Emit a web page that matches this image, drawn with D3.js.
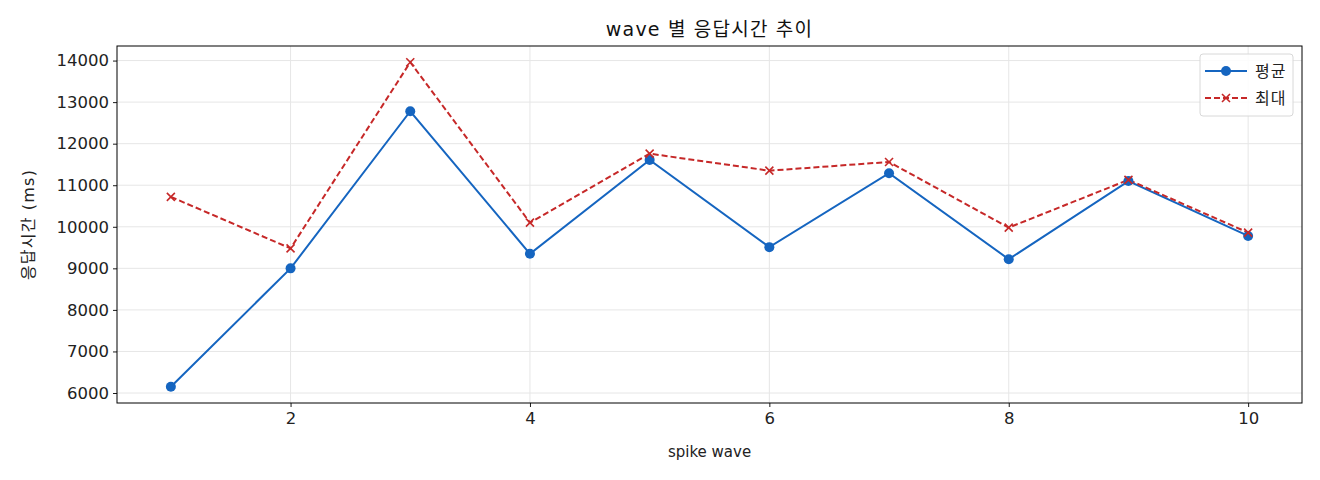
<!DOCTYPE html>
<html><head><meta charset="utf-8">
<script src="https://cdn.jsdelivr.net/npm/d3@7"></script>
<style>
body{margin:0;background:#fff;}
svg{display:block;font-family:"DejaVu Sans","Noto Sans CJK KR",sans-serif;}
</style></head>
<body>
<svg id="chart" width="1320" height="480"></svg>
<script>
const waves = [1,2,3,4,5,6,7,8,9,10];
const avgValues = [6150,9000,12780,9350,11610,9510,11290,9220,11100,9780];
const maxValues = [10720,9480,13960,10100,11760,11350,11560,9980,11130,9860];
const xTicks = [2,4,6,8,10];
const yTicks = [6000,7000,8000,9000,10000,11000,12000,13000,14000];
const seriesNames = ["평균","최대"];
const titleText = "wave 별 응답시간 추이";
const xLabel = "spike wave";
const yLabel = "응답시간 (ms)";

const svg = d3.select("#chart");
const L=117, R=1302, T=46, B=403;
const blue="#1565C0", red="#C62828";

const allVals = avgValues.concat(maxValues);
const ymin=d3.min(allVals), ymax=d3.max(allVals), yr=ymax-ymin;
const x = d3.scaleLinear().domain([1-0.45,10+0.45]).range([L,R]);
const y = d3.scaleLinear().domain([ymin-0.05*yr, ymax+0.05*yr]).range([B,T]);

// grid
const g = svg.append("g");
g.selectAll(".gx").data(xTicks).enter().append("line")
 .attr("x1",d=>x(d)).attr("x2",d=>x(d)).attr("y1",T).attr("y2",B)
 .attr("stroke","#e6e6e6").attr("stroke-width",1);
g.selectAll(".gy").data(yTicks).enter().append("line")
 .attr("x1",L).attr("x2",R).attr("y1",d=>y(d)).attr("y2",d=>y(d))
 .attr("stroke","#e6e6e6").attr("stroke-width",1);

// axes
const xAxis = d3.axisBottom(x).tickValues(xTicks).tickSize(4).tickPadding(5).tickFormat(d3.format("d"));
const yAxis = d3.axisLeft(y).tickValues(yTicks).tickSize(4).tickPadding(4).tickFormat(d3.format("d"));
const gx = svg.append("g").attr("transform",`translate(0,${B})`).call(xAxis);
const gy = svg.append("g").attr("transform",`translate(${L},0)`).call(yAxis);
[gx,gy].forEach(a=>{
  a.select(".domain").remove();
  a.selectAll(".tick line").attr("stroke","#000").attr("stroke-width",0.9);
  a.selectAll(".tick text").attr("fill","#222").style("font-size","16.5px").style("font-family","'DejaVu Sans','Noto Sans CJK KR',sans-serif");
});
svg.append("rect").attr("x",L).attr("y",T).attr("width",R-L).attr("height",B-T)
 .attr("fill","none").attr("stroke","#000").attr("stroke-width",1);

// lines
const line = d3.line().x((d,i)=>x(waves[i])).y(d=>y(d));
svg.append("path").datum(avgValues).attr("d",line).attr("fill","none")
 .attr("stroke",blue).attr("stroke-width",2);
svg.append("path").datum(maxValues).attr("d",line).attr("fill","none")
 .attr("stroke",red).attr("stroke-width",2).attr("stroke-dasharray","6,3");
svg.selectAll(".dot").data(avgValues).enter().append("circle")
 .attr("cx",(d,i)=>x(waves[i])).attr("cy",d=>y(d)).attr("r",5).attr("fill",blue);
const xm = d=>`M-4,-4L4,4M-4,4L4,-4`;
svg.selectAll(".xm").data(maxValues).enter().append("path")
 .attr("transform",(d,i)=>`translate(${x(waves[i])},${y(d)})`)
 .attr("d",xm).attr("stroke",red).attr("stroke-width",1.6).attr("fill","none");

// title & labels
svg.append("text").attr("x",(L+R)/2).attr("y",36).attr("text-anchor","middle")
 .style("font-size","19px").style("letter-spacing","1.2px").attr("fill","#111").text(titleText);
svg.append("text").attr("x",(L+R)/2).attr("y",457).attr("text-anchor","middle")
 .style("font-size","15px").attr("fill","#222").text(xLabel);
svg.append("text").attr("transform",`translate(34,${(T+B)/2}) rotate(-90)`).attr("text-anchor","middle")
 .style("font-size","16px").style("letter-spacing","1.2px").attr("fill","#222").text(yLabel);

// legend
const lg = svg.append("g").attr("transform","translate(1200,54)");
lg.append("rect").attr("width",93).attr("height",62).attr("rx",3)
 .attr("fill","#fff").attr("fill-opacity",0.85).attr("stroke","#d8d8d8");
const items=[{n:seriesNames[0],c:blue,dash:null,m:"o"},{n:seriesNames[1],c:red,dash:"6,3",m:"x"}];
items.forEach((it,i)=>{
  const yy=17+i*27;
  lg.append("line").attr("x1",5).attr("x2",47).attr("y1",yy).attr("y2",yy)
    .attr("stroke",it.c).attr("stroke-width",2).attr("stroke-dasharray",it.dash);
  if(it.m==="o") lg.append("circle").attr("cx",26).attr("cy",yy).attr("r",5).attr("fill",it.c);
  else lg.append("path").attr("transform",`translate(26,${yy})`).attr("d",xm).attr("stroke",it.c).attr("stroke-width",1.6);
  lg.append("text").attr("x",55).attr("y",yy+6).style("font-size","16px").style("letter-spacing","1px").attr("fill","#222").text(it.n);
});
</script>
</body></html>
